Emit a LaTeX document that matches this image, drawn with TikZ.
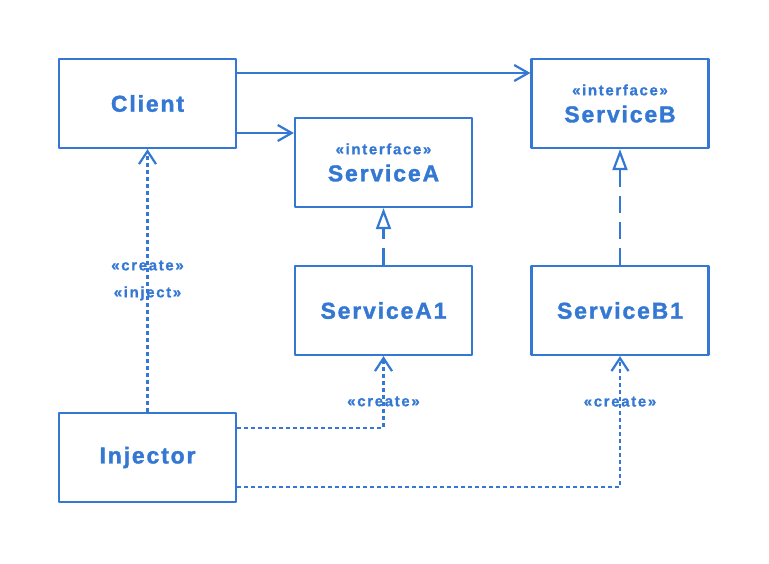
\documentclass[tikz,border=0pt]{standalone}
\usepackage{fontspec}
\newfontfamily\boxfont[LetterSpace=8,BoldFeatures={FakeBold=1.5}]{Liberation Sans}
\newfontfamily\tagfont[LetterSpace=11,BoldFeatures={FakeBold=1}]{Liberation Sans}
\usetikzlibrary{arrows.meta}
\definecolor{umlblue}{RGB}{52,120,212}

\begin{document}
\begin{tikzpicture}[x=1pt,y=-1pt,line width=2.2pt,line join=round,color=umlblue,
  box/.style={draw,minimum width=177pt,minimum height=89pt,inner sep=0pt,align=center,font=\boxfont\bfseries\fontsize{23}{27}\selectfont},
  use/.style={-{Straight Barb[length=14pt,width=16pt]}},
  realize/.style={dash pattern=on 17pt off 9pt,-{Triangle[open,length=21pt,width=15pt,fill=white]}},
  create/.style={dash pattern=on 4pt off 3pt,-{Straight Barb[length=13pt,width=17pt]}},
  tag/.style={font=\tagfont\bfseries\fontsize{15}{27}\selectfont,align=center}]
\useasboundingbox (0,0) rectangle (769,563);
%\draw[gray!30] (0,0) grid[step=50] (769,563);
\node[box] (cl) at (147.5,103.5) {Client};
\node[box] (sa) at (383.5,162.5) {{\tagfont\bfseries\fontsize{15}{19}\selectfont «interface»}\\[0pt]ServiceA};
\node[box] (sb) at (620,103.5) {{\tagfont\bfseries\fontsize{15}{19}\selectfont «interface»}\\[0pt]ServiceB};
\node[box] (sa1) at (383.5,310.5) {ServiceA1};
\node[box] (sb1) at (620,310.5) {ServiceB1};
\node[box] (inj) at (147.5,457.5) {Injector};
\draw[use] ([yshift=30.5pt]cl.east) -- ([yshift=30.5pt]sb.west);
\draw[use] ([yshift=-29.5pt]cl.east) -- ([yshift=29.5pt]sa.west);
\draw[realize] (sa1) -- (sa);
\draw[realize] (sb1) -- (sb);
\draw[create] (inj) -- node[tag] (ci) {«create»\\«inject»} (cl);
\draw[create] ([yshift=29.5pt]inj.east) -| node[tag,pos=.685] (ca) {«create»} (sa1);
\draw[create] ([yshift=-29.5pt]inj.east) -| node[tag,pos=.826] (cb) {«create»} (sb1);
\end{tikzpicture}
\end{document}
